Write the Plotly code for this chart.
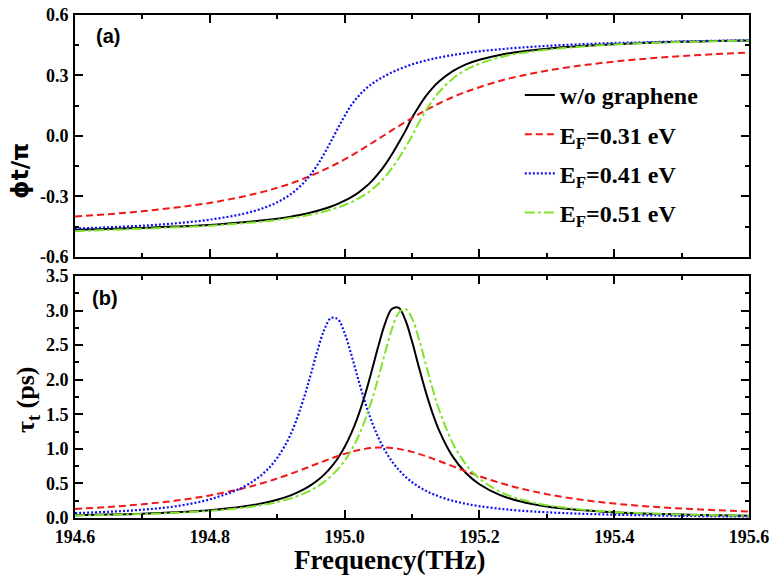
import plotly.graph_objects as go
from plotly.subplots import make_subplots

# frequency grid (THz), denser around the resonances
freq = [194.60, 194.65, 194.70, 194.75, 194.80, 194.85, 194.88, 194.90, 194.92, 194.94,
        194.95, 194.96, 194.97, 194.98, 194.99, 195.00, 195.01, 195.02, 195.03, 195.04,
        195.05, 195.06, 195.07, 195.08, 195.09, 195.10, 195.11, 195.12, 195.13, 195.14,
        195.16, 195.18, 195.20, 195.23, 195.26, 195.30, 195.35, 195.40, 195.45, 195.50,
        195.55, 195.60]

# (a) transmission phase / pi
phi_wo = [-0.465, -0.461, -0.456, -0.449, -0.441, -0.428, -0.418, -0.410, -0.400, -0.387,
          -0.380, -0.371, -0.361, -0.350, -0.337, -0.321, -0.303, -0.282, -0.256, -0.225,
          -0.187, -0.143, -0.092, -0.035, 0.024, 0.090, 0.145, 0.195, 0.236, 0.270,
          0.320, 0.355, 0.378, 0.402, 0.418, 0.433, 0.446, 0.455, 0.462, 0.467,
          0.471, 0.474]
phi_031 = [-0.399, -0.388, -0.373, -0.355, -0.332, -0.300, -0.276, -0.257, -0.236, -0.211,
           -0.197, -0.183, -0.167, -0.151, -0.134, -0.116, -0.097, -0.077, -0.057, -0.036,
           -0.015, 0.006, 0.028, 0.048, 0.069, 0.089, 0.108, 0.127, 0.144, 0.161,
           0.192, 0.219, 0.242, 0.273, 0.297, 0.324, 0.349, 0.369, 0.384, 0.396,
           0.406, 0.414]
phi_041 = [-0.459, -0.453, -0.445, -0.433, -0.415, -0.386, -0.357, -0.329, -0.289, -0.230,
           -0.190, -0.142, -0.087, -0.025, 0.038, 0.099, 0.153, 0.195, 0.230, 0.257,
           0.279, 0.298, 0.315, 0.330, 0.343, 0.355, 0.365, 0.374, 0.382, 0.389,
           0.401, 0.411, 0.420, 0.430, 0.438, 0.447, 0.455, 0.461, 0.465, 0.469,
           0.472, 0.475]
phi_051 = [-0.472, -0.466, -0.460, -0.453, -0.445, -0.433, -0.424, -0.416, -0.407, -0.397,
           -0.390, -0.383, -0.375, -0.365, -0.355, -0.342, -0.328, -0.311, -0.291, -0.267,
           -0.238, -0.203, -0.161, -0.113, -0.058, 0.000, 0.065, 0.123, 0.173, 0.217,
           0.283, 0.328, 0.358, 0.390, 0.410, 0.428, 0.443, 0.454, 0.461, 0.466,
           0.470, 0.474]

# (b) group delay (ps)
tau_wo = [0.039, 0.049, 0.062, 0.082, 0.113, 0.165, 0.216, 0.264, 0.327, 0.417,
          0.475, 0.545, 0.631, 0.736, 0.865, 1.027, 1.227, 1.475, 1.773, 2.119,
          2.484, 2.813, 3.023, 3.043, 2.868, 2.556, 2.190, 1.839, 1.530, 1.272,
          0.895, 0.650, 0.488, 0.335, 0.243, 0.168, 0.115, 0.083, 0.062, 0.049,
          0.039, 0.032]
tau_031 = [0.131, 0.160, 0.199, 0.252, 0.327, 0.430, 0.510, 0.571, 0.639, 0.712,
           0.750, 0.788, 0.825, 0.862, 0.896, 0.928, 0.957, 0.981, 1.000, 1.013,
           1.019, 1.019, 1.013, 1.000, 0.981, 0.957, 0.928, 0.896, 0.862, 0.825,
           0.750, 0.675, 0.605, 0.510, 0.430, 0.345, 0.266, 0.209, 0.168, 0.137,
           0.113, 0.095]
tau_041 = [0.070, 0.090, 0.120, 0.170, 0.270, 0.450, 0.650, 0.870, 1.210, 1.749,
           2.083, 2.431, 2.727, 2.894, 2.875, 2.675, 2.362, 2.015, 1.686, 1.402,
           1.167, 0.976, 0.822, 0.700, 0.600, 0.519, 0.452, 0.396, 0.350, 0.311,
           0.250, 0.205, 0.171, 0.134, 0.107, 0.083, 0.062, 0.048, 0.038, 0.031,
           0.026, 0.022]
tau_051 = [0.037, 0.045, 0.058, 0.075, 0.103, 0.149, 0.192, 0.231, 0.284, 0.356,
           0.402, 0.458, 0.525, 0.606, 0.706, 0.828, 0.982, 1.172, 1.407, 1.693,
           2.027, 2.388, 2.727, 2.965, 3.026, 2.888, 2.599, 2.243, 1.888, 1.572,
           1.091, 0.776, 0.571, 0.383, 0.273, 0.185, 0.124, 0.088, 0.066, 0.051,
           0.041, 0.033]

names = ['w/o graphene', 'E<sub>F</sub>=0.31 eV', 'E<sub>F</sub>=0.41 eV', 'E<sub>F</sub>=0.51 eV']
x_ticks = [194.6, 194.8, 195.0, 195.2, 195.4, 195.6]
x_ticktext = ['194.6', '194.8', '195.0', '195.2', '195.4', '195.6']
y1_ticks = [-0.6, -0.3, 0.0, 0.3, 0.6]
y1_ticktext = ['-0.6', '-0.3', '0.0', '0.3', '0.6']
y2_ticks = [0, 0.5, 1.0, 1.5, 2.0, 2.5, 3.0, 3.5]
y2_ticktext = ['0.0', '0.5', '1.0', '1.5', '2.0', '2.5', '3.0', '3.5']

SERIF = 'Times New Roman, Liberation Serif, DejaVu Serif, serif'
SANS = 'Arial, Liberation Sans, DejaVu Sans, sans-serif'

styles = [
    dict(color='black', width=2, dash='solid'),
    dict(color='#f01818', width=2, dash='7px,4px'),
    dict(color='#1010f0', width=2.2, dash='2px,2px'),
    dict(color='#7fe32a', width=2, dash='10px,3px,3px,3px'),
]

fig = make_subplots(rows=2, cols=1, vertical_spacing=0.038)

for i, (name, phi, tau, st) in enumerate(zip(names, [phi_wo, phi_031, phi_041, phi_051],
                                             [tau_wo, tau_031, tau_041, tau_051], styles)):
    fig.add_trace(go.Scatter(x=freq, y=phi, mode='lines', name=name, line=st,
                             line_shape='spline', legendgroup=f'g{i}'), row=1, col=1)
    fig.add_trace(go.Scatter(x=freq, y=tau, mode='lines', name=name, line=st,
                             line_shape='spline', legendgroup=f'g{i}', showlegend=False),
                  row=2, col=1)

tickfont = dict(family=SERIF, size=18, color='black', weight='bold')
common = dict(showline=True, linewidth=2, linecolor='black', mirror='allticks',
              ticks='inside', ticklen=8, tickwidth=2, tickcolor='black',
              showgrid=False, zeroline=False, tickfont=tickfont, automargin=False,
              ticklabeloverflow='allow', ticklabelstandoff=1)

fig.update_xaxes(range=[194.6, 195.6], tickmode='array', tickvals=x_ticks, ticktext=x_ticktext,
                 minor=dict(dtick=0.1, tick0=194.6, ticks='inside', ticklen=4,
                            tickwidth=2, tickcolor='black', showgrid=False),
                 **common)
fig.update_xaxes(showticklabels=False, row=1, col=1)
fig.update_yaxes(range=[-0.6, 0.6], tickmode='array', tickvals=y1_ticks, ticktext=y1_ticktext,
                 minor=dict(dtick=0.15, tick0=-0.6, ticks='inside', ticklen=4,
                            tickwidth=2, tickcolor='black', showgrid=False),
                 row=1, col=1, **common)
fig.update_yaxes(range=[0, 3.5], tickmode='array', tickvals=y2_ticks, ticktext=y2_ticktext,
                 minor=dict(dtick=0.25, tick0=0, ticks='inside', ticklen=4,
                            tickwidth=2, tickcolor='black', showgrid=False),
                 row=2, col=1, **common)

fig.update_layout(
    width=771, height=575,
    margin=dict(l=75, r=22, t=15, b=57),
    font=dict(family=SERIF, size=18, color='black', weight='bold'),
    paper_bgcolor='white', plot_bgcolor='white',
    legend=dict(x=0.66, y=0.885, xanchor='left', yanchor='top',
                bgcolor='rgba(0,0,0,0)', tracegroupgap=5,
                font=dict(family=SERIF, size=24, color='black', weight='bold')),
    annotations=[
        dict(text='(a)', x=0.049, y=0.958, xref='paper', yref='paper', showarrow=False,
             xanchor='center', yanchor='middle',
             font=dict(family=SANS, size=20, color='black', weight='bold')),
        dict(text='(b)', x=0.045, y=0.437, xref='paper', yref='paper', showarrow=False,
             xanchor='center', yanchor='middle',
             font=dict(family=SANS, size=20, color='black', weight='bold')),
        dict(text='ϕt/π', x=-0.082, y=0.69, xref='paper', yref='paper', showarrow=False,
             textangle=-90, xanchor='center', yanchor='middle',
             font=dict(family='DejaVu Sans', size=23, color='black', weight='bold')),
        dict(text='τ<sub>t</sub> (ps)', x=-0.071, y=0.235, xref='paper', yref='paper',
             showarrow=False, textangle=-90, xanchor='center', yanchor='middle',
             font=dict(family=SERIF, size=26, color='black', weight='bold')),
        dict(text='Frequency(THz)', x=0.467, y=-0.083, xref='paper', yref='paper',
             showarrow=False, xanchor='center', yanchor='middle',
             font=dict(family=SERIF, size=27, color='black', weight='bold')),
    ],
)

# drop the default 8px body margin so the figure sits at the window origin
fig.write_html('out.html', config={'displayModeBar': False},
               post_script="document.body.style.margin='0px';")
